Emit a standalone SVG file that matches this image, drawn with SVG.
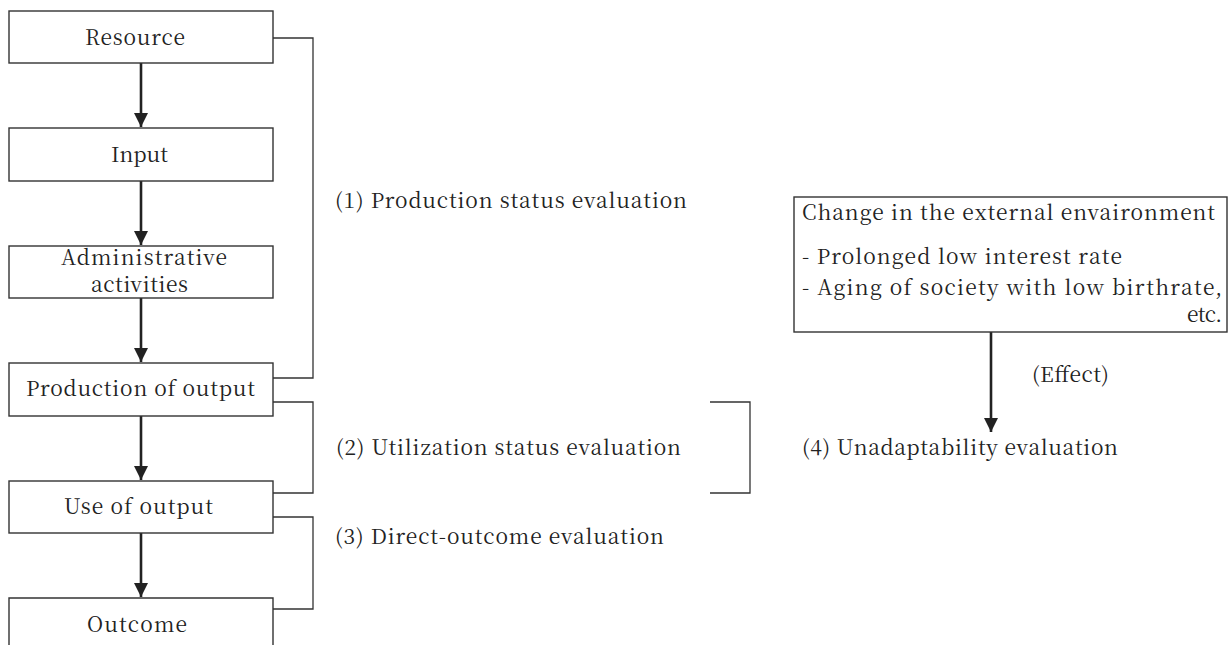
<svg xmlns="http://www.w3.org/2000/svg" width="1229" height="645" viewBox="0 0 1229 645">
<defs>
<style>
.box{fill:#fff;stroke:#333;stroke-width:1.4}
.t{font-size:21px;fill:#222}
.br{fill:none;stroke:#333;stroke-width:1.3}
.ar{fill:none;stroke:#222;stroke-width:2.6}
</style>
<marker id="ah" viewBox="0 0 14 18" refX="14" refY="9" markerWidth="14" markerHeight="18" markerUnits="userSpaceOnUse" orient="auto">
<path d="M0,2 L14,9 L0,16 Z" fill="#222"/>
</marker>
</defs>
<rect width="1229" height="645" fill="#fff"/>
<g id="connectors">
<line class="ar" x1="141" y1="63" x2="141" y2="127" marker-end="url(#ah)"/>
<line class="ar" x1="141" y1="181" x2="141" y2="245" marker-end="url(#ah)"/>
<line class="ar" x1="141" y1="298" x2="141" y2="362" marker-end="url(#ah)"/>
<line class="ar" x1="141" y1="416" x2="141" y2="480" marker-end="url(#ah)"/>
<line class="ar" x1="141" y1="533" x2="141" y2="597" marker-end="url(#ah)"/>
<line class="ar" x1="991" y1="332" x2="991" y2="432" marker-end="url(#ah)"/>
<polyline class="br" points="273,38 313,38 313,378 273,378"/>
<polyline class="br" points="273,402 313,402 313,493 273,493"/>
<polyline class="br" points="273,517 313,517 313,609 273,609"/>
<polyline class="br" points="710,402 750,402 750,493 710,493"/>
</g>
<g font-family="Noto Serif CJK KR, Liberation Serif, serif">
<g id="resource"><rect class="box" x="9" y="11" width="264" height="52"/><text class="t" x="85" y="45" textLength="100" lengthAdjust="spacing">Resource</text></g>
<g id="input"><rect class="box" x="9" y="128" width="264" height="53"/><text class="t" x="111" y="162" textLength="57" lengthAdjust="spacing">Input</text></g>
<g id="admin"><rect class="box" x="9" y="246" width="264" height="52"/><text class="t" x="61" y="265" textLength="166" lengthAdjust="spacing">Administrative</text><text class="t" x="91" y="292" textLength="97" lengthAdjust="spacing">activities</text></g>
<g id="production"><rect class="box" x="9" y="363" width="264" height="53"/><text class="t" x="26" y="396" textLength="229" lengthAdjust="spacing">Production of output</text></g>
<g id="use"><rect class="box" x="9" y="481" width="264" height="52"/><text class="t" x="64" y="514" textLength="149" lengthAdjust="spacing">Use of output</text></g>
<g id="outcome"><path class="box" d="M9,650 L9,598 L273,598 L273,650"/><text class="t" x="87" y="632" textLength="100" lengthAdjust="spacing">Outcome</text></g>
<g id="eval1"><text class="t" x="335" y="208" textLength="352" lengthAdjust="spacing">(1) Production status evaluation</text></g>
<g id="eval2"><text class="t" x="336" y="455" textLength="345" lengthAdjust="spacing">(2) Utilization status evaluation</text></g>
<g id="eval3"><text class="t" x="335" y="544" textLength="329" lengthAdjust="spacing">(3) Direct-outcome evaluation</text></g>
<g id="eval4"><text class="t" x="802" y="455" textLength="316" lengthAdjust="spacing">(4) Unadaptability evaluation</text></g>
<g id="effect"><text class="t" x="1032" y="382" textLength="77" lengthAdjust="spacing">(Effect)</text></g>
<g id="external">
<rect class="box" x="794" y="197" width="433" height="135"/>
<text class="t" x="802" y="220" textLength="413" lengthAdjust="spacing">Change in the external envaironment</text>
<text class="t" x="802" y="264" textLength="320" lengthAdjust="spacing">- Prolonged low interest rate</text>
<text class="t" x="802" y="295" textLength="420" lengthAdjust="spacing">- Aging of society with low birthrate,</text>
<text class="t" x="1187" y="322" textLength="35" lengthAdjust="spacing">etc.</text>
</g>
</g>
</svg>
